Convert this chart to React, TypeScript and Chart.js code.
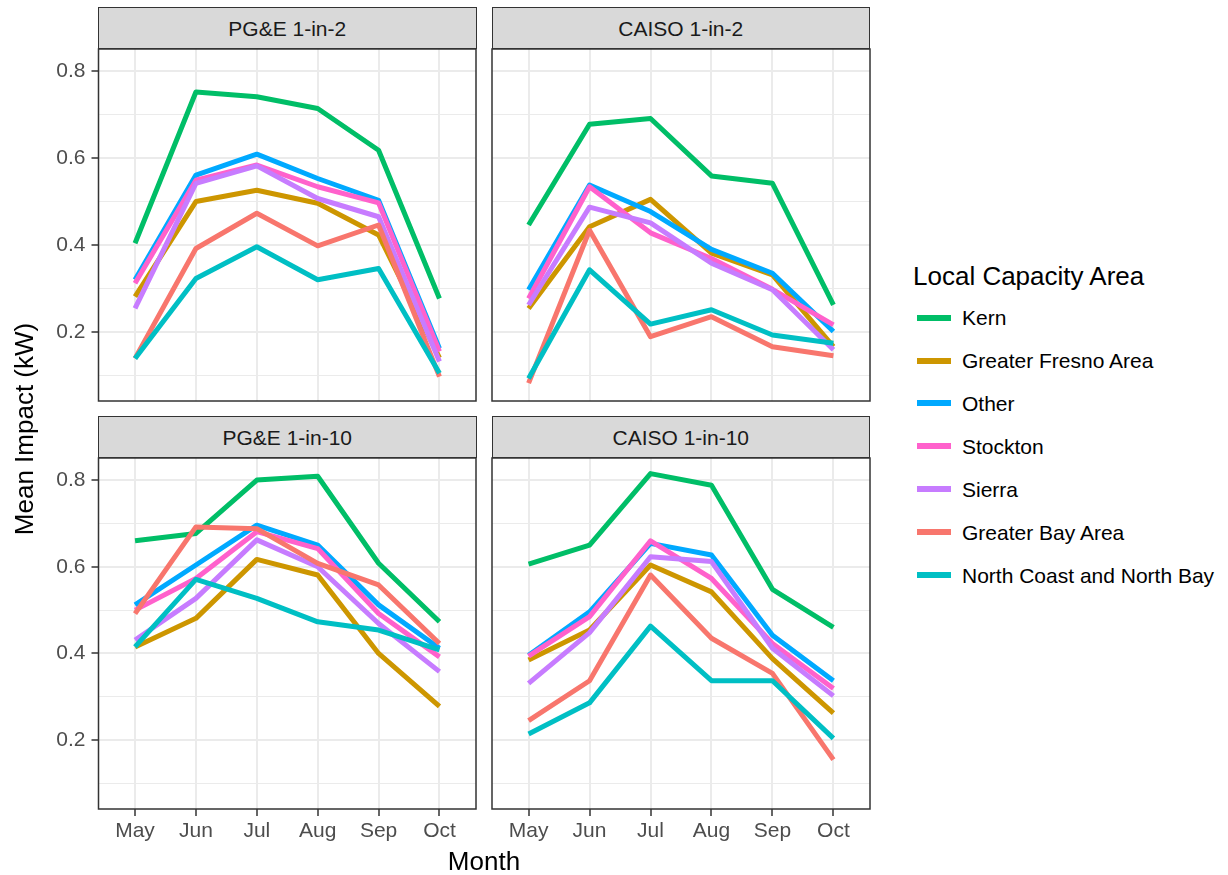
import React, { useEffect, useRef } from 'react';
import { Chart, registerables } from 'chart.js';

Chart.register(...registerables);

// ---------- data ----------
const months = ['May', 'Jun', 'Jul', 'Aug', 'Sep', 'Oct'];

const seriesNames = [
  'Kern',
  'Greater Fresno Area',
  'Other',
  'Stockton',
  'Sierra',
  'Greater Bay Area',
  'North Coast and North Bay',
];

const seriesColors = ['#00BE67', '#CD9600', '#00A9FF', '#FF61CC', '#C77CFF', '#F8766D', '#00BFC4'];

// rows follow seriesNames order, columns follow months
const pge1in2: number[][] = [
  [0.404, 0.752, 0.741, 0.714, 0.618, 0.277],
  [0.281, 0.5, 0.526, 0.496, 0.423, 0.14],
  [0.32, 0.561, 0.609, 0.553, 0.503, 0.162],
  [0.312, 0.549, 0.584, 0.534, 0.497, 0.155],
  [0.254, 0.542, 0.582, 0.507, 0.465, 0.132],
  [0.139, 0.392, 0.473, 0.398, 0.446, 0.097],
  [0.139, 0.323, 0.396, 0.32, 0.346, 0.105],
];

const caiso1in2: number[][] = [
  [0.446, 0.678, 0.691, 0.559, 0.542, 0.262],
  [0.254, 0.442, 0.505, 0.381, 0.331, 0.166],
  [0.297, 0.538, 0.477, 0.39, 0.335, 0.201],
  [0.277, 0.534, 0.428, 0.369, 0.298, 0.216],
  [0.262, 0.487, 0.451, 0.358, 0.297, 0.159],
  [0.082, 0.434, 0.189, 0.235, 0.166, 0.145],
  [0.093, 0.343, 0.218, 0.251, 0.193, 0.174],
];

const pge1in10: number[][] = [
  [0.66, 0.677, 0.8, 0.809, 0.608, 0.473],
  [0.415, 0.481, 0.617, 0.581, 0.4, 0.278],
  [0.512, 0.604, 0.696, 0.65, 0.512, 0.412],
  [0.5, 0.573, 0.681, 0.642, 0.492, 0.392],
  [0.431, 0.527, 0.662, 0.6, 0.469, 0.358],
  [0.492, 0.692, 0.688, 0.608, 0.558, 0.423],
  [0.415, 0.571, 0.527, 0.473, 0.454, 0.408],
];

const caiso1in10: number[][] = [
  [0.606, 0.65, 0.815, 0.788, 0.548, 0.46],
  [0.385, 0.454, 0.604, 0.542, 0.388, 0.262],
  [0.396, 0.496, 0.654, 0.627, 0.442, 0.337],
  [0.394, 0.485, 0.66, 0.573, 0.423, 0.319],
  [0.331, 0.448, 0.623, 0.612, 0.412, 0.302],
  [0.245, 0.337, 0.581, 0.435, 0.354, 0.155],
  [0.214, 0.286, 0.463, 0.337, 0.337, 0.204],
];

const yTickValues = [0.1, 0.2, 0.3, 0.4, 0.5, 0.6, 0.7, 0.8];
const yMin = 0.041;
const yMax = 0.851;

// ---------- styling ----------
const FONT = '"Liberation Sans", Arial, Helvetica, sans-serif';

const isMajor = (v: number) => Math.round(v * 10) % 2 === 0;

const panelBorder = {
  id: 'panelBorder',
  afterDraw(chart: any) {
    const { ctx, chartArea: a } = chart;
    ctx.save();
    ctx.strokeStyle = '#333333';
    ctx.lineWidth = 1.5;
    ctx.strokeRect(a.left, a.top, a.right - a.left, a.bottom - a.top);
    ctx.restore();
  },
};

type PanelProps = {
  data: number[][];
  left: number;
  top: number;
  width: number;
  height: number;
  showY: boolean;
  showX: boolean;
};

function Panel({ data, left, top, width, height, showY, showX }: PanelProps) {
  const ref = useRef<HTMLCanvasElement>(null);
  useEffect(() => {
    const chart = new Chart(ref.current as HTMLCanvasElement, {
      type: 'line',
      data: {
        datasets: data.map((vals, i) => ({
          label: seriesNames[i],
          data: vals.map((v, j) => ({ x: j, y: v })),
          borderColor: seriesColors[i],
          backgroundColor: seriesColors[i],
          borderWidth: 5,
          pointRadius: 0,
          pointHoverRadius: 0,
          tension: 0,
          fill: false,
          borderJoinStyle: 'round',
          borderCapStyle: 'butt',
          order: data.length - i,
        })),
      },
      options: {
        animation: false,
        responsive: false,
        events: [],
        layout: {
          padding: { top: 2, bottom: showX ? 0 : 2, left: showY ? 0 : 4, right: 4 },
        },
        plugins: { legend: { display: false }, tooltip: { enabled: false } },
        scales: {
          x: {
            type: 'linear',
            min: -0.6,
            max: 5.6,
            afterBuildTicks: (s: any) => {
              s.ticks = months.map((_, i) => ({ value: i }));
            },
            afterFit: (s: any) => {
              s.height = showX ? 40 : 0;
              s.paddingLeft = 0;
              s.paddingRight = 0;
            },
            grid: {
              color: '#ebebeb',
              lineWidth: 2,
              drawTicks: showX,
              tickLength: 7,
              tickColor: '#333333',
              tickWidth: 1.5,
            },
            border: { display: false },
            ticks: {
              display: showX,
              autoSkip: false,
              maxRotation: 0,
              padding: 3,
              color: '#4d4d4d',
              font: { family: FONT, size: 21 },
              callback: (v: any) => months[Math.round(Number(v))] ?? '',
            },
          },
          y: {
            type: 'linear',
            min: yMin,
            max: yMax,
            afterBuildTicks: (s: any) => {
              s.ticks = yTickValues.map((v) => ({ value: v }));
            },
            afterFit: (s: any) => {
              s.width = showY ? 98.5 : 0;
              s.paddingTop = 0;
              s.paddingBottom = 0;
            },
            grid: {
              color: '#ebebeb',
              lineWidth: (c: any) => (c.tick && isMajor(c.tick.value) ? 2 : 1),
              drawTicks: showY,
              tickLength: 7,
              tickColor: (c: any) => (c.tick && isMajor(c.tick.value) ? '#333333' : 'rgba(0,0,0,0)'),
              tickWidth: 1.5,
            },
            border: { display: false },
            ticks: {
              display: showY,
              autoSkip: false,
              padding: 6,
              color: '#4d4d4d',
              font: { family: FONT, size: 21 },
              callback: (v: any) => (isMajor(Number(v)) ? Number(v).toFixed(1) : ''),
            },
          },
        },
      } as any,
      plugins: [panelBorder],
    });
    return () => chart.destroy();
  }, [data, showX, showY]);

  return (
    <canvas
      ref={ref}
      width={width}
      height={height}
      style={{ position: 'absolute', left, top, width, height }}
    />
  );
}

function Strip({ label, left, top }: { label: string; left: number; top: number }) {
  return (
    <div
      style={{
        position: 'absolute',
        left,
        top,
        width: 378.5,
        height: 42,
        boxSizing: 'border-box',
        border: '1.5px solid #333333',
        background: '#d9d9d9',
        display: 'flex',
        alignItems: 'center',
        justifyContent: 'center',
        fontSize: 21,
        color: '#1a1a1a',
        lineHeight: '21px',
      }}
    >
      {label}
    </div>
  );
}

export default function App() {
  const legendStart = 317.7;
  const legendStep = 42.85;
  return (
    <div
      style={{
        position: 'absolute',
        left: 0,
        top: 0,
        width: 1228,
        height: 875,
        background: '#ffffff',
        fontFamily: FONT,
        overflow: 'hidden',
      }}
    >
      <Panel data={pge1in2} left={0} top={47} width={480} height={356} showY={true} showX={false} />
      <Panel data={caiso1in2} left={488} top={47} width={386} height={356} showY={false} showX={false} />
      <Panel data={pge1in10} left={0} top={456} width={480} height={393} showY={true} showX={true} />
      <Panel data={caiso1in10} left={488} top={456} width={386} height={393} showY={false} showX={true} />

      <Strip label="PG&E 1-in-2" left={98} top={7} />
      <Strip label="CAISO 1-in-2" left={491.5} top={7} />
      <Strip label="PG&E 1-in-10" left={98} top={416} />
      <Strip label="CAISO 1-in-10" left={491.5} top={416} />

      {/* axis titles */}
      <div
        style={{
          position: 'absolute',
          left: 24 - 150,
          top: 429 - 15,
          width: 300,
          height: 30,
          lineHeight: '30px',
          textAlign: 'center',
          fontSize: 26,
          color: '#000',
          transform: 'rotate(-90deg)',
        }}
      >
        Mean Impact (kW)
      </div>
      <div
        style={{
          position: 'absolute',
          left: 384,
          top: 848,
          width: 200,
          lineHeight: '26px',
          textAlign: 'center',
          fontSize: 26,
          color: '#000',
        }}
      >
        Month
      </div>

      {/* legend */}
      <div
        style={{
          position: 'absolute',
          left: 913,
          top: 262.6,
          lineHeight: '26px',
          fontSize: 26,
          color: '#000',
          whiteSpace: 'nowrap',
        }}
      >
        Local Capacity Area
      </div>
      {seriesNames.map((name, i) => {
        const c = legendStart + legendStep * i;
        return (
          <React.Fragment key={name}>
            <div
              style={{
                position: 'absolute',
                left: 917,
                top: c - 3,
                width: 34,
                height: 6,
                background: seriesColors[i],
              }}
            />
            <div
              style={{
                position: 'absolute',
                left: 962,
                top: c - 10.3,
                lineHeight: '21px',
                fontSize: 21,
                color: '#000',
                whiteSpace: 'nowrap',
              }}
            >
              {name}
            </div>
          </React.Fragment>
        );
      })}
    </div>
  );
}
